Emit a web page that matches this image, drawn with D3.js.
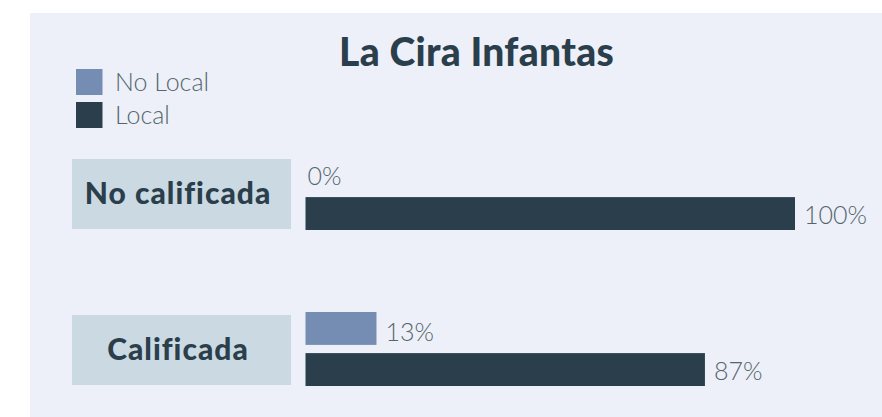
<!DOCTYPE html>
<html>
<head>
<meta charset="utf-8">
<script src="https://cdn.jsdelivr.net/npm/d3@7"></script>
<style>
  html, body { margin: 0; padding: 0; background: #ffffff; }
  svg { display: block; }
</style>
</head>
<body>
<svg id="chart" width="882" height="417"></svg>
<script>
// ---- data ----
const title = "La Cira Infantas";
const categories = ["No calificada", "Calificada"];
const seriesNames = ["No Local", "Local"];
// bar lengths as drawn in the reference (percent of the 100% bar)
const noLocalValues = [0, 14.5];
const localValues = [100, 81.6];
// printed labels
const noLocalLabels = ["0%", "13%"];
const localLabels = ["100%", "87%"];
const seriesColors = ["#768db3", "#2a3f4b"];

// ---- layout ----
const svg = d3.select("#chart");
const W = 882, H = 417;
const darkText = "#2a3f4b";
const lightText = "#56666c";

svg.append("rect").attr("x", 30).attr("y", 13).attr("width", W - 30).attr("height", H - 13)
  .attr("fill", "#edf0f8");

svg.append("text").attr("x", 476.5).attr("y", 66)
  .attr("text-anchor", "middle")
  .attr("font-family", "Lato, sans-serif").attr("font-weight", 900)
  .attr("font-size", 39).attr("letter-spacing", 0.3).attr("fill", darkText)
  .text(title);

// legend
const legend = svg.append("g");
seriesNames.forEach((s, i) => {
  legend.append("rect").attr("x", 76).attr("y", 69 + i * 33).attr("width", 26.5).attr("height", 26)
    .attr("fill", seriesColors[i]);
  legend.append("text").attr("x", 115).attr("y", 91 + i * 33)
    .attr("font-family", "Lato, sans-serif").attr("font-weight", 300)
    .attr("font-size", 25).attr("fill", lightText)
    .text(s);
});

// scales
const x = d3.scaleLinear().domain([0, 100]).range([305.5, 795]);
const yGroup = d3.scaleBand().domain(categories).range([156, 468]).paddingInner(0);
const yInner = d3.scaleBand().domain(seriesNames).range([0, 74]).paddingInner(0.2);

const data = categories.map((c, i) => ({
  cat: c,
  bars: [
    { series: seriesNames[0], value: noLocalValues[i], label: noLocalLabels[i] },
    { series: seriesNames[1], value: localValues[i], label: localLabels[i] }
  ]
}));

const groups = svg.selectAll("g.grp").data(data).enter().append("g")
  .attr("class", "grp")
  .attr("transform", d => `translate(0,${yGroup(d.cat)})`);

groups.append("rect").attr("x", 72).attr("y", 3).attr("width", 219).attr("height", 70)
  .attr("fill", "#cbd9e2");
groups.append("text").attr("x", 178).attr("y", 48)
  .attr("text-anchor", "middle")
  .attr("font-family", "Lato, sans-serif").attr("font-weight", 900)
  .attr("font-size", 30).attr("letter-spacing", 1.0).attr("fill", darkText)
  .text(d => d.cat);

const bars = groups.selectAll("g.bar").data(d => d.bars).enter().append("g").attr("class", "bar");
bars.filter(b => b.value > 0).append("rect")
  .attr("x", x(0))
  .attr("y", b => yInner(b.series))
  .attr("width", b => x(b.value) - x(0))
  .attr("height", yInner.bandwidth())
  .attr("fill", b => seriesColors[seriesNames.indexOf(b.series)]);
bars.append("text")
  .attr("x", b => x(b.value) + (b.value > 0 ? 9 : 2))
  .attr("y", b => yInner(b.series) + yInner.bandwidth() / 2 + (b.series === seriesNames[0] ? 13 : 10))
  .attr("font-family", "Lato, sans-serif").attr("font-weight", 300)
  .attr("font-size", 25).attr("fill", lightText)
  .text(b => b.label);
</script>
</body>
</html>
